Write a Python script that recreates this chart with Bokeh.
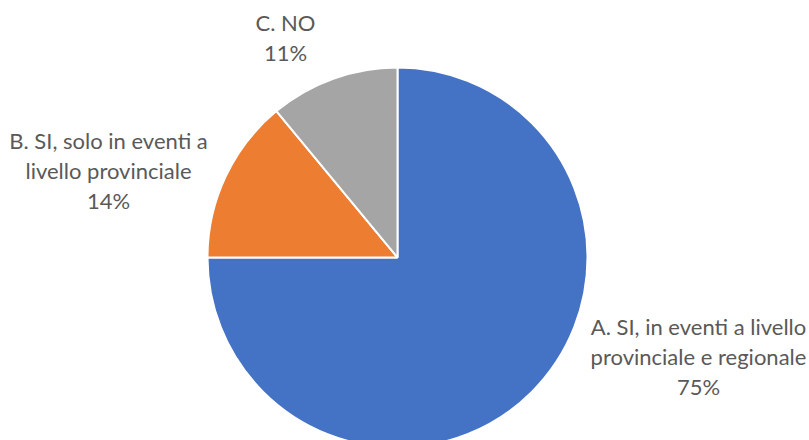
import numpy as np
from bokeh.plotting import figure
from bokeh.models import Range1d, ColumnDataSource
from bokeh.core.properties import value
from bokeh.embed import file_html
from bokeh.resources import INLINE

categories = ["A. SI, in eventi a livello\nprovinciale e regionale",
              "B. SI, solo in eventi a\nlivello provinciale",
              "C. NO"]
values = [75, 14, 11]
colors = ["#4472C4", "#ED7D31", "#A5A5A5"]

W, H = 809, 440
p = figure(width=W, height=H, output_backend="svg", toolbar_location=None,
           x_range=Range1d(0, W), y_range=Range1d(440 - H, 440),
           min_border=0)
p.axis.visible = False
p.grid.visible = False
p.outline_line_color = None
p.background_fill_color = "white"
p.border_fill_color = "white"

cx, cy, r = 397, 440 - 257, 190
total = sum(values)
fr = np.array(values) / total
ends = np.cumsum(fr)
starts = ends - fr
start_ang = np.pi / 2 - 2 * np.pi * starts
end_ang = np.pi / 2 - 2 * np.pi * ends

src = ColumnDataSource(dict(s=start_ang, e=end_ang, c=colors))
p.wedge(x=cx, y=cy, radius=r, start_angle="s", end_angle="e", direction="clock",
        fill_color="c", line_color="white", line_width=2, source=src)

pct = [f"{round(v / total * 100)}%" for v in values]
label_text = [f"{c}\n{q}" for c, q in zip(categories, pct)]
lx = [698, 108, 285]
ly = [440 - 356, 440 - 170, 440 - 37]
p.text(x=lx, y=ly, text=label_text, text_align="center", text_baseline="middle",
       text_font=value("Lato"), text_font_size="22px", text_color="#595959",
       text_line_height=1.12)

open("out.html", "w").write(file_html(p, INLINE))
